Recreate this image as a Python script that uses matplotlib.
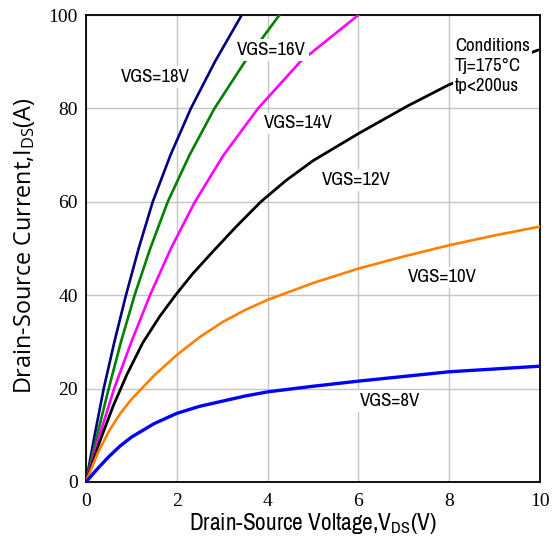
import matplotlib
matplotlib.use("Agg")
import matplotlib.pyplot as plt
from matplotlib import font_manager
from matplotlib.font_manager import FontProperties

# ---------------- data ----------------
i18 = [0, 10, 20, 30, 40, 50, 60, 70, 80, 90, 100]
v18 = [0, 0.19, 0.39, 0.625, 0.88, 1.16, 1.47, 1.86, 2.31, 2.84, 3.43]

i16 = [0, 10, 20, 30, 40, 50, 60, 70, 80, 90, 100]
v16 = [0, 0.245, 0.50, 0.77, 1.07, 1.415, 1.80, 2.28, 2.83, 3.50, 4.26]

i14 = [0, 10, 20, 30, 40, 50, 60, 70, 80, 90, 100]
v14 = [0, 0.30, 0.62, 1.0, 1.41, 1.87, 2.40, 3.03, 3.79, 4.72, 6.0]

v12 = [0, 0.3, 0.6, 0.9, 1.25, 1.62, 1.97, 2.35, 2.79, 3.30, 3.85, 4.41, 5.0, 6.0, 7.06, 7.98, 9.0, 9.96]
i12 = [0, 8.6, 16.3, 23.0, 29.8, 35.4, 40.0, 44.6, 49.3, 54.6, 60.0, 64.6, 68.8, 74.6, 80.4, 85.0, 89.0, 92.5]

v10 = [0, 0.25, 0.5, 0.75, 1.0, 1.5, 2.0, 2.5, 3.0, 3.5, 4.0, 5.0, 6.0, 7.0, 8.0, 9.0, 10.0]
i10 = [0, 6.0, 10.8, 14.6, 17.7, 22.8, 27.2, 31.0, 34.2, 36.8, 39.0, 42.6, 45.7, 48.3, 50.7, 52.8, 54.7]

v8 = [0, 0.25, 0.5, 0.75, 1.0, 1.5, 2.0, 2.5, 3.0, 3.5, 4.0, 5.0, 6.0, 7.0, 8.0, 9.0, 10.0]
i8 = [0, 2.8, 5.4, 7.7, 9.6, 12.5, 14.7, 16.2, 17.3, 18.4, 19.3, 20.5, 21.6, 22.6, 23.6, 24.2, 24.8]

series_labels = ["VGS=18V", "VGS=16V", "VGS=14V", "VGS=12V", "VGS=10V", "VGS=8V"]
label_pos = [(1.52, 86.7), (4.09, 92.5), (4.68, 76.8), (5.96, 64.7), (7.84, 43.8), (6.69, 17.4)]
conditions_text = "Conditions\nTj=175\u00b0C\ntp<200us"
conditions_pos = (8.13, 89.0)

xticks = [0, 2, 4, 6, 8, 10]
yticks = [0, 20, 40, 60, 80, 100]

xlabel_text = "Drain-Source Voltage,V$_{\\mathregular{DS}}$(V)"
ylabel_text = "Drain-Source Current,I$_{\\mathregular{DS}}$(A)"

# ---------------- fonts ----------------
flist = font_manager.fontManager.ttflist
names = {f.name for f in flist}


def find_condensed():
    pref = []
    for f in flist:
        nm = f.name
        st = f.stretch
        is_cond = ("Narrow" in nm or "Condensed" in nm or
                   st in ("condensed", "semi-condensed", "extra-condensed") or
                   (isinstance(st, (int, float)) and st < 500))
        if not is_cond:
            continue
        if f.style != "normal" or f.weight not in (400, "normal", "regular"):
            continue
        if "Mono" in nm or "Serif" in nm:
            continue
        pref.append(f)
    if pref:
        pref.sort(key=lambda f: (0 if "Liberation" in f.name else 1, f.name))
        return FontProperties(fname=pref[0].fname)
    for fam in ("Liberation Sans", "Roboto", "DejaVu Sans"):
        if fam in names:
            return FontProperties(family=fam)
    return FontProperties(family="DejaVu Sans")


cond_fp = find_condensed()
ylab_family = "Open Sans" if "Open Sans" in names else "DejaVu Sans"
serif = "Liberation Serif" if "Liberation Serif" in names else "DejaVu Serif"

colors = ["#000080", "#008000", "#ff00ff", "#000000", "#ff8000", "#0000ff"]
widths = [1.9, 1.9, 1.9, 2.0, 1.9, 2.4]

fig = plt.figure(figsize=(5.54, 5.40), dpi=100)
ax = fig.add_axes([86 / 554, 58 / 540, 454 / 554, 467 / 540])

curves = [(v18, i18), (v16, i16), (v14, i14), (v12, i12), (v10, i10), (v8, i8)]
for (vx, iy), c, lw in zip(curves, colors, widths):
    ax.plot(vx, iy, color=c, lw=lw, solid_capstyle="round", solid_joinstyle="round", zorder=3)

ax.set_xlim(0, 10)
ax.set_ylim(0, 100)
ax.set_xticks(xticks)
ax.set_yticks(yticks)
ax.set_xticklabels([str(t) for t in xticks], fontfamily=serif, fontsize=14)
ax.set_yticklabels([str(t) for t in yticks], fontfamily=serif, fontsize=14)
ax.tick_params(axis="both", length=0)
ax.tick_params(axis="x", pad=8)
ax.tick_params(axis="y", pad=6)
ax.grid(True, color="#c4c4c4", lw=1.0, zorder=0)
ax.set_axisbelow(True)
for s in ax.spines.values():
    s.set_linewidth(1.3)
    s.set_color("black")

renderer = fig.canvas.get_renderer()


def fit(text_artist, target_px, horizontal=True, max_size=None):
    text_artist.set_fontsize(10)
    bb = text_artist.get_window_extent(renderer=renderer)
    w = bb.width if horizontal else bb.height
    size = 10 * target_px / w
    if max_size is not None:
        size = min(size, max_size)
    text_artist.set_fontsize(size)
    return size


label_size = None
for txt, (x, y) in zip(series_labels, label_pos):
    t = ax.text(x, y, txt, fontproperties=cond_fp, ha="center", va="center",
                zorder=5, bbox=dict(facecolor="white", edgecolor="none", pad=1.5))
    if label_size is None:
        label_size = fit(t, 69, max_size=15)
    else:
        t.set_fontsize(label_size)

ct = ax.text(conditions_pos[0], conditions_pos[1], conditions_text, fontproperties=cond_fp,
             ha="left", va="center", linespacing=1.3, zorder=5,
             bbox=dict(facecolor="white", edgecolor="none", pad=1.0))
ct.set_fontsize(label_size)

xl = fig.text(313 / 554, 1 - 524 / 540, xlabel_text, fontproperties=cond_fp,
              ha="center", va="center")
fit(xl, 249, max_size=18)

yl = fig.text(25 / 554, 1 - 246 / 540, ylabel_text, family=ylab_family,
              rotation=90, ha="center", va="center")
fit(yl, 298, horizontal=False, max_size=18)

fig.savefig("out.png", dpi=100)
